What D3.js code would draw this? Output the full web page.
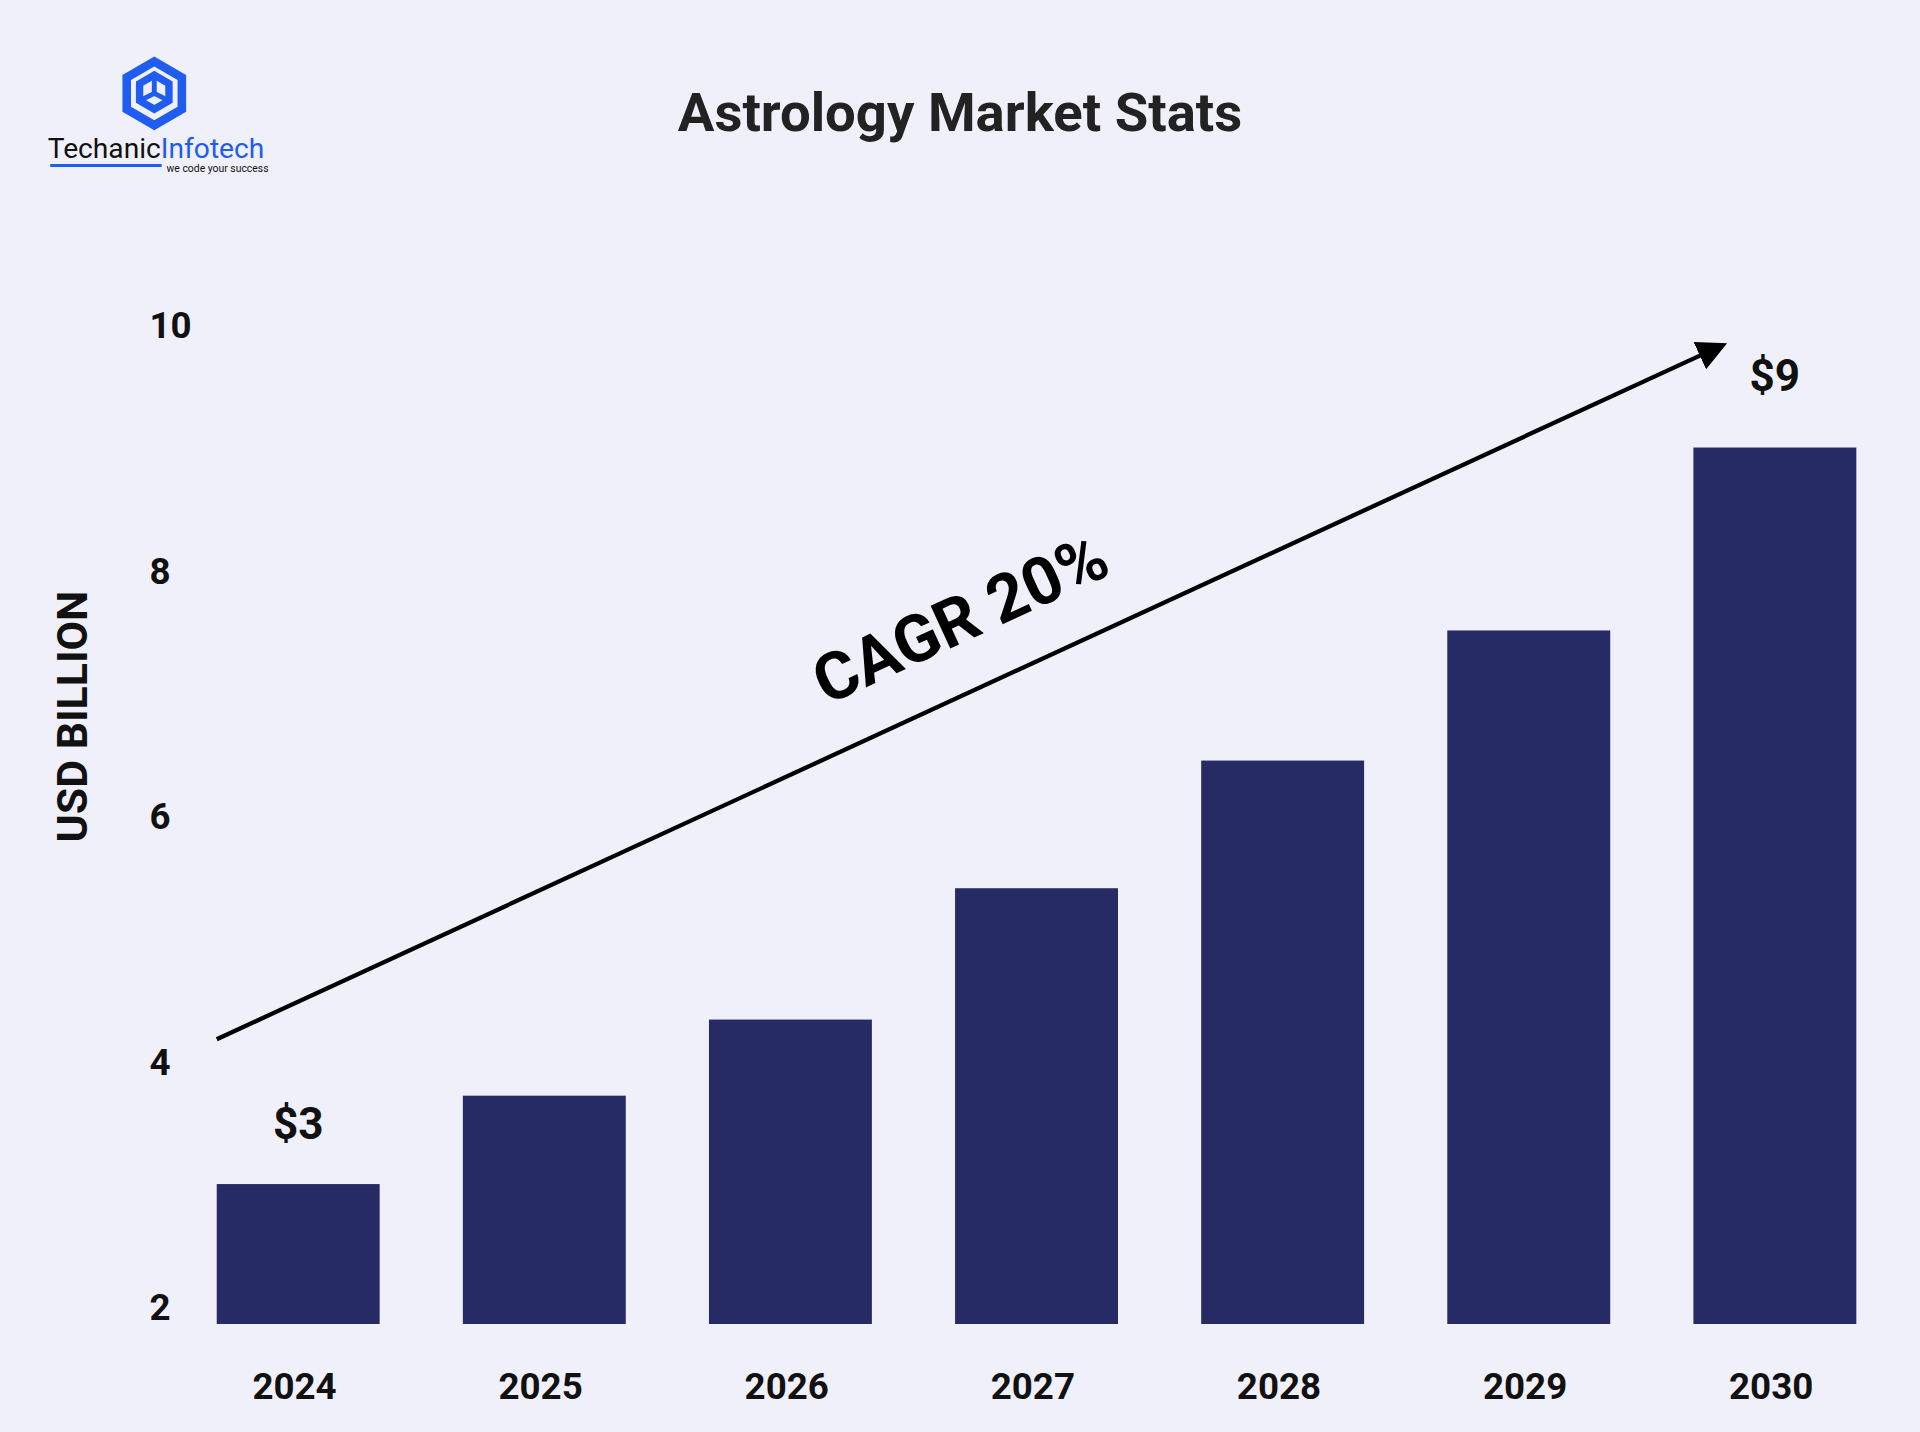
<!DOCTYPE html>
<html><head><meta charset="utf-8">
<script src="https://cdn.jsdelivr.net/npm/d3@7"></script>
<style>body{margin:0;background:#f0f0fa}svg{display:block;font-family:Roboto,sans-serif}</style>
</head><body>
<svg id="chart" width="1920" height="1432" viewBox="0 0 1568 1169"></svg>
<script>
// chart data
var years = ["2024","2025","2026","2027","2028","2029","2030"];
var values = [3.0, 3.72, 4.34, 5.41, 6.45, 7.51, 9.0];
var yTicks = [2, 4, 6, 8, 10];
var barBase = 1.86;

var svg = d3.select("#chart");
svg.append("rect").attr("width",1568).attr("height",1169).attr("fill","#f0f0fa");

var x = d3.scaleBand().domain(years).range([177, 1516]).paddingInner(0.338).paddingOuter(0);
var y = d3.scaleLinear().domain([2, 10]).range([1067, 265]);

// title
svg.append("text").attr("x",784).attr("y",107).attr("text-anchor","middle")
  .attr("font-size",44.5).attr("font-weight",700).attr("fill","#222").text("Astrology Market Stats");

// y ticks
svg.selectAll(".yt").data(yTicks).enter().append("text")
  .attr("x",122).attr("y",d => y(d)+11).attr("font-size",30).attr("font-weight",700)
  .attr("fill","#111").text(d => d);

svg.append("text").attr("transform","translate(71,585) rotate(-90)").attr("text-anchor","middle")
  .attr("font-size",35).attr("font-weight",700).attr("fill","#111").text("USD BILLION");

// bars
svg.selectAll(".bar").data(values).enter().append("rect")
  .attr("x",(d,i) => x(years[i])).attr("width",x.bandwidth())
  .attr("y",d => y(d)).attr("height",d => y(barBase)-y(d)).attr("fill","#272b65");

// year labels
svg.selectAll(".xl").data(years).enter().append("text")
  .attr("x",d => x(d)+x.bandwidth()/2-3).attr("y",1142).attr("text-anchor","middle")
  .attr("font-size",30).attr("font-weight",700).attr("fill","#111").text(d => d);

// value labels for first and last
[0, values.length-1].forEach(function(i){
  svg.append("text").attr("x",x(years[i])+x.bandwidth()/2).attr("y",y(values[i])-(i==0?37:46))
    .attr("text-anchor","middle").attr("font-size",36).attr("font-weight",700).attr("fill","#111")
    .text("$" + Math.round(values[i]));
});

// CAGR arrow
svg.append("defs").append("marker").attr("id","ah").attr("viewBox","0 0 10 10").attr("refX",8).attr("refY",5)
  .attr("markerWidth",7).attr("markerHeight",7).attr("orient","auto")
  .append("path").attr("d","M0,0L10,5L0,10z").attr("fill","#000");
var x0 = x("2024"), y0 = y(4.18), x1 = 1406, y1 = y(9.83);
svg.append("line").attr("x1",x0).attr("y1",y0).attr("x2",x1).attr("y2",y1)
  .attr("stroke","#000").attr("stroke-width",3.5).attr("marker-end","url(#ah)");
var ang = Math.atan2(y1-y0, x1-x0)*180/Math.PI;
svg.append("text").attr("transform","translate(792,522) rotate("+ang+")").attr("text-anchor","middle")
  .attr("font-size",54).attr("font-weight",700).attr("fill","#000").text("CAGR 20%");

// logo
var logo = svg.append("g").attr("transform","translate(126,76)");
var hex = d3.range(6).map(function(k){var a=Math.PI/3*k-Math.PI/2;return [26*Math.cos(a),26*Math.sin(a)];});
logo.append("path").attr("d","M"+hex.join("L")+"Z").attr("fill","none").attr("stroke","#1f5cf0").attr("stroke-width",7);
logo.append("path").attr("d","M-12,-8L0,-15L12,-8L12,6L0,13L-12,6Z").attr("fill","none").attr("stroke","#1f5cf0").attr("stroke-width",6);
logo.append("path").attr("d","M0,-15L0,0L12,6M0,0L-12,6").attr("fill","none").attr("stroke","#1f5cf0").attr("stroke-width",4);
var lt = svg.append("text").attr("x",39).attr("y",129).attr("font-size",23);
lt.append("tspan").attr("fill","#111").text("Techanic");
lt.append("tspan").attr("fill","#1f5cf0").text("Infotech");
svg.append("line").attr("x1",41).attr("x2",132).attr("y1",135).attr("y2",135).attr("stroke","#1f5cf0").attr("stroke-width",2.5);
svg.append("text").attr("x",136).attr("y",140).attr("font-size",8.5).attr("fill","#111").text("we code your success");
</script>
</body></html>
